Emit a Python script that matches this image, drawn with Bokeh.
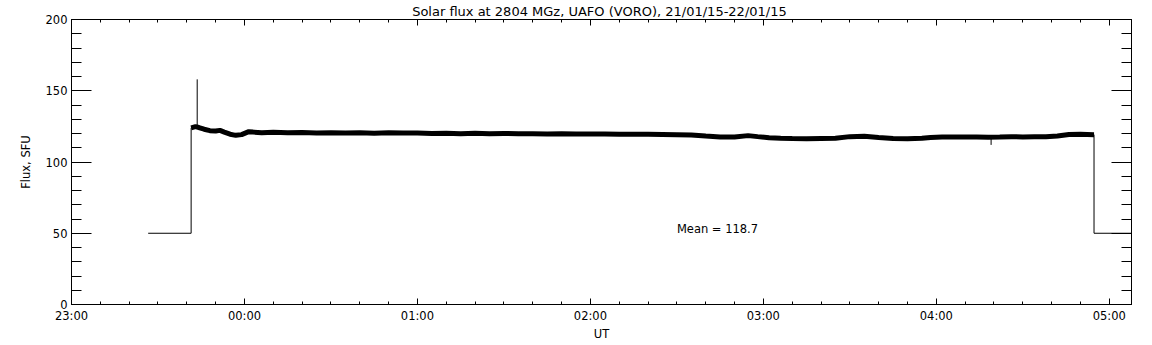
from bokeh.plotting import figure
from bokeh.models import FixedTicker, LinearAxis, Label, Range1d
from bokeh.embed import file_html
from bokeh.resources import INLINE

# ---- data (minutes since 23:00 UT) ----
pre_t = [26.6, 41.5]
pre_v = [50, 50]

rec_t = [41.5, 43, 44.2, 46, 48, 50, 51.5, 53, 55, 57, 59, 61.5, 63, 66, 70, 75, 80,
         85, 90, 95, 100, 105, 110, 115, 120, 125, 130, 135, 140, 145, 150, 155, 160,
         165, 170, 175, 180, 185, 190, 195, 200, 205, 210, 215, 220, 225, 230, 234.7,
         238, 242, 246, 250, 255, 260, 265, 270, 275, 280, 285, 290, 295, 298, 302,
         306, 310, 314, 318, 322, 326, 330, 334, 338, 342, 346, 350, 354.7]
rec_v = [124.0, 124.8, 124.2, 123.0, 122.0, 121.7, 122.2, 121.0, 119.5, 118.7, 119.2,
         121.3, 121.0, 120.5, 120.8, 120.5, 120.7, 120.3, 120.6, 120.4, 120.5, 120.2,
         120.5, 120.3, 120.4, 120.0, 120.2, 119.9, 120.1, 119.8, 120.0, 119.9, 119.8,
         119.7, 119.8, 119.6, 119.7, 119.6, 119.5, 119.5, 119.4, 119.3, 119.2, 119.0,
         118.2, 117.6, 117.5, 118.5, 117.8, 117.0, 116.7, 116.5, 116.4, 116.5, 116.6,
         117.8, 118.0, 117.2, 116.5, 116.4, 116.6, 117.2, 117.5, 117.6, 117.5, 117.6,
         117.4, 117.5, 117.7, 117.6, 117.7, 117.8, 118.3, 119.3, 119.4, 119.2]

spike_t = [43.6, 319]
spike_from = [124.5, 117.5]
spike_to = [158, 112]

post_t = [354.7, 367.7]
post_v = [50, 50]

x_tick_vals = [0, 60, 120, 180, 240, 300, 360]
x_tick_labels = ["23:00", "00:00", "01:00", "02:00", "03:00", "04:00", "05:00"]
y_tick_vals = [0, 50, 100, 150, 200]

title_text = "Solar flux at 2804 MGz, UAFO (VORO),  21/01/15-22/01/15"
mean_text = "Mean =  118.7"

thin_t = pre_t + rec_t + post_t
thin_v = pre_v + rec_v + post_v

FONT = "DejaVu Sans"

p = figure(frame_width=1060, frame_height=285, output_backend="svg",
           toolbar_location=None, x_range=Range1d(0, 367.7), y_range=Range1d(0, 200),
           min_border_left=71, min_border_right=21, min_border_top=19, min_border_bottom=41,
           background_fill_color="white", border_fill_color="white")
p.xgrid.visible = False
p.ygrid.visible = False
p.outline_line_color = "black"
p.outline_line_width = 1

p.title.text = title_text
p.title.align = "center"
p.title.text_font = FONT
p.title.text_font_size = "13px"
p.title.text_font_style = "normal"
p.title.text_color = "black"
p.title.standoff = 2
p.title.offset = 0

p.line(thin_t, thin_v, line_color="black", line_width=1)
p.line(rec_t, rec_v, line_color="black", line_width=5)
p.segment(x0=spike_t, y0=spike_from, x1=spike_t, y1=spike_to, line_color="black", line_width=1)

xt = FixedTicker(ticks=x_tick_vals, minor_ticks=list(range(0, 371, 10)))
yt = FixedTicker(ticks=y_tick_vals, minor_ticks=list(range(0, 201, 10)))

def style_common(ax, labels):
    ax.major_tick_out = 0
    ax.minor_tick_out = 0
    ax.axis_line_color = "black"
    ax.major_tick_line_color = "black"
    ax.minor_tick_line_color = "black"
    ax.major_label_text_font = FONT
    if labels:
        ax.major_label_text_font_size = "11.5px"
        ax.major_label_text_color = "black"
        ax.major_label_standoff = 4
    else:
        ax.major_label_text_font_size = "0px"
        ax.major_label_text_color = None
        ax.major_label_standoff = 0

def style_x(ax, labels=True):
    ax.ticker = xt
    ax.major_tick_in = 6
    ax.minor_tick_in = 3
    style_common(ax, labels)

def style_y(ax, labels=True):
    ax.ticker = yt
    ax.major_tick_in = 20
    ax.minor_tick_in = 10
    style_common(ax, labels)

style_x(p.xaxis[0])
p.xaxis[0].major_label_overrides = {v: s for v, s in zip(x_tick_vals, x_tick_labels)}
p.xaxis[0].axis_label = "UT"
p.xaxis[0].axis_label_text_font = FONT
p.xaxis[0].axis_label_text_font_size = "11.5px"
p.xaxis[0].axis_label_text_font_style = "normal"
p.xaxis[0].axis_label_text_color = "black"
p.xaxis[0].axis_label_standoff = 1

style_y(p.yaxis[0])
p.yaxis[0].axis_label = "Flux, SFU"
p.yaxis[0].axis_label_text_font = FONT
p.yaxis[0].axis_label_text_font_size = "11.5px"
p.yaxis[0].axis_label_text_font_style = "normal"
p.yaxis[0].axis_label_text_color = "black"
p.yaxis[0].axis_label_standoff = 10

top = LinearAxis()
style_x(top, labels=False)
p.add_layout(top, "above")
right = LinearAxis()
style_y(right, labels=False)
p.add_layout(right, "right")

p.add_layout(Label(x=210, y=52.7, text=mean_text, text_align="left",
                   text_baseline="middle", text_font=FONT, text_font_size="11.5px",
                   text_color="black"))

open("out.html", "w").write(file_html(p, INLINE))
